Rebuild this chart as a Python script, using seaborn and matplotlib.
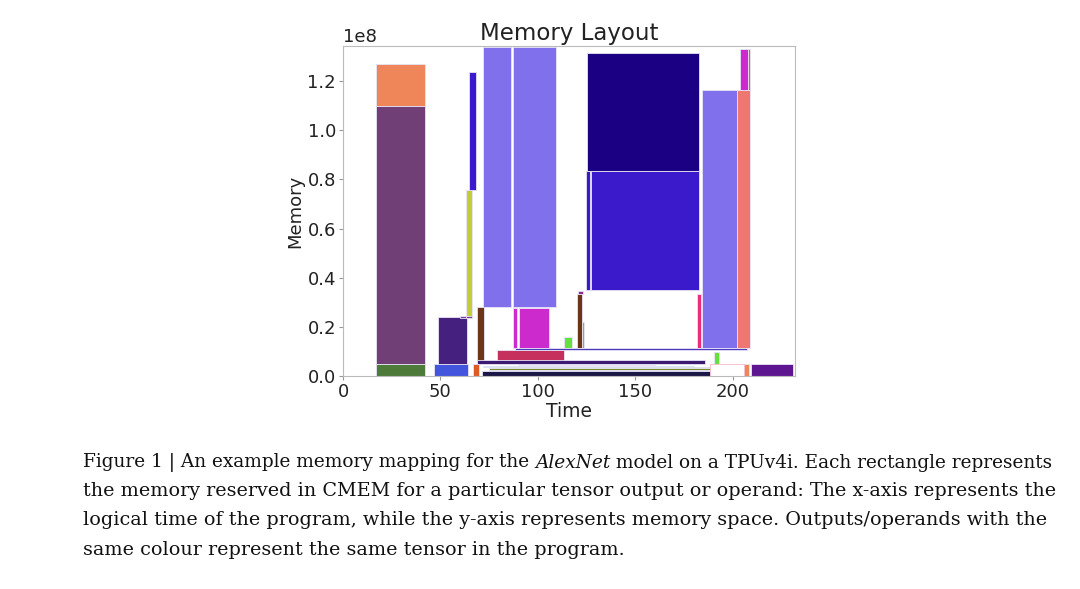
import matplotlib
matplotlib.use("Agg")
import matplotlib.pyplot as plt
import seaborn as sns

# ---- data (time start, time end, memory bottom, memory top in units of 1e8, colour) ----
t_start = [16.8, 16.8, 16.8, 46.9, 48.8, 66.9, 63.2, 64.9, 69.0, 72.1, 87.0,
           87.0, 90.1, 78.9, 113.2, 88.3, 68.7, 71.2, 125.2, 127.2, 124.9,
           120.2, 122.7, 181.6, 184.2, 202.2, 203.9, 190.2, 206.0, 209.4,
           72.0, 75.0, 80.0, 90.0, 188.5, 207.7, 120.8, 60.0, 63.0]
t_end = [42.3, 42.3, 42.3, 64.4, 63.5, 70.0, 66.1, 68.3, 72.4, 86.2, 109.4,
         89.3, 105.5, 113.5, 117.5, 207.5, 185.6, 188.5, 182.9, 182.9, 127.0,
         122.6, 123.9, 183.9, 202.2, 208.7, 207.7, 193.1, 208.6, 231.0,
         180.0, 205.0, 200.0, 160.0, 205.7, 208.7, 123.2, 63.5, 66.1]
m_bottom = [1.099, 0.048, 0.0, 0.0, 0.050, 0.0, 0.242, 0.758, 0.058, 0.279, 0.279,
            0.113, 0.113, 0.058, 0.112, 0.105, 0.050, 0.0, 0.833, 0.350, 0.350,
            0.113, 0.113, 0.113, 0.113, 0.113, 1.163, 0.050, 0.0, 0.0,
            0.036, 0.025, 0.031, 0.041, 0.0, 1.163, 0.333, 0.236, 0.237]
m_top = [1.268, 1.099, 0.048, 0.050, 0.241, 0.050, 0.758, 1.238, 0.282, 1.340, 1.340,
         0.276, 0.276, 0.106, 0.160, 0.115, 0.064, 0.020, 1.313, 0.833, 0.833,
         0.333, 0.221, 0.333, 1.163, 1.163, 1.329, 0.098, 0.050, 0.050,
         0.041, 0.031, 0.036, 0.045, 0.050, 1.329, 0.345, 0.246, 0.246]
colors = ["#EE8659", "#6F3F76", "#4E7B3A", "#4455DD", "#46207E", "#E05A25",
          "#C3CC3A", "#3A1ACB", "#6A3519", "#8070EB", "#8070EB",
          "#CD2ACD", "#CD2ACD", "#C5305C", "#66E040", "#4A3AB8", "#3C1A72",
          "#1C1845", "#1C0083", "#3A1ACB", "#3A1ACB",
          "#6A3519", "#A8A840", "#E8307A", "#8070EB", "#EE7772", "#CD2ACD",
          "#66E040", "#EE8659", "#5E1690",
          "#40C8D8", "#7A8A30", "#5FB040", "#C8B8F0", "#FFFFFF", "#E86030",
          "#8A2A8A", "#7A3AA0", "#7A3AA0"]

x_ticks = [0, 50, 100, 150, 200]
y_ticks = [0.0, 0.2, 0.4, 0.6, 0.8, 1.0, 1.2]

caption_lines = [
    ("Figure 1 | An example memory mapping for the ", "AlexNet",
     " model on a TPUv4i. Each rectangle represents"),
    ("the memory reserved in CMEM for a particular tensor output or operand: The x-axis represents the",),
    ("logical time of the program, while the y-axis represents memory space. Outputs/operands with the",),
    ("same colour represent the same tensor in the program.",),
]

sns.set_theme(style="white")
plt.rcParams["font.family"] = ["DejaVu Sans"]

fig = plt.figure(figsize=(10.8, 5.89), dpi=100)
ax = fig.add_axes([0.3176, 0.3616, 0.4185, 0.5603])

widths = [e - s for s, e in zip(t_start, t_end)]
heights = [(t - b) * 1e8 for b, t in zip(m_bottom, m_top)]
bottoms = [b * 1e8 for b in m_bottom]
edges = ["#F4B8C8" if c == "#FFFFFF" else "#E8E4F8" for c in colors]
ax.bar(t_start, heights, width=widths, bottom=bottoms, align="edge",
       color=colors, edgecolor=edges, linewidth=0.6)

ax.set_xlim(0, 232)
ax.set_ylim(0, 1.343e8)
ax.set_xticks(x_ticks)
ax.set_yticks([v * 1e8 for v in y_ticks])
ax.ticklabel_format(axis="y", style="sci", scilimits=(0, 0))
ax.tick_params(axis="both", labelsize=13, length=3, width=0.8,
               color="#999999", direction="out", left=True, bottom=True,
               pad=2, labelcolor="#222222")
ax.yaxis.get_offset_text().set_fontsize(13)
ax.yaxis.get_offset_text().set_color("#222222")
for s in ax.spines.values():
    s.set_color("#BBBBBB")
    s.set_linewidth(0.8)
ax.set_title("Memory Layout", fontsize=16.5, color="#222222", pad=4)
ax.set_xlabel("Time", fontsize=13.5, color="#222222", labelpad=1)
ax.set_ylabel("Memory", fontsize=13, color="#222222", labelpad=2)

# ---- caption ----
y_pos = [462, 491, 520, 550]
sizes = [13.3, 13.8, 13.8, 13.8]
for parts, yp, fs in zip(caption_lines, y_pos, sizes):
    cap_font = dict(family="DejaVu Serif", fontsize=fs, color="#111111")
    yf = 1 - yp / 589
    t = fig.text(83 / 1080, yf, parts[0], va="center", ha="left", **cap_font)
    if len(parts) > 1:
        t2 = ax.annotate(parts[1], xy=(1, 0), xycoords=t, va="bottom", ha="left",
                         style="italic", annotation_clip=False, **cap_font)
        ax.annotate(parts[2], xy=(1, 0), xycoords=t2, va="bottom", ha="left",
                    annotation_clip=False, **cap_font)

fig.savefig("out.png", dpi=100)
